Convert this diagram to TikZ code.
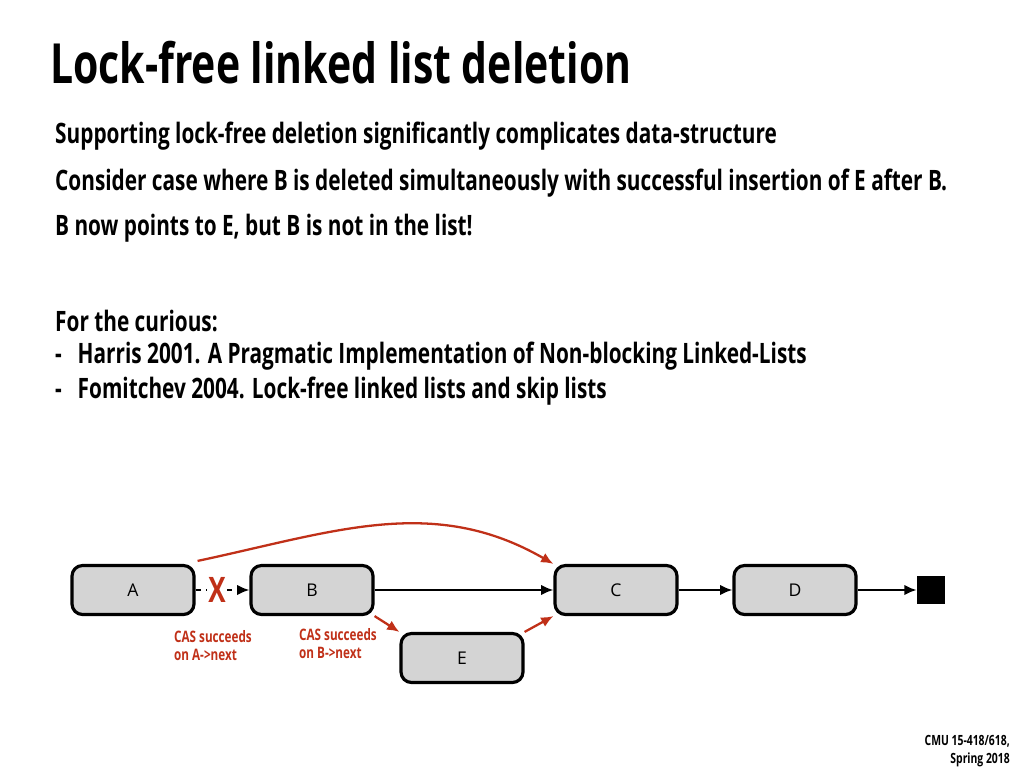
\documentclass[tikz,border=0pt]{standalone}
\usepackage{fontspec}
\setmainfont{Open Sans}[FakeStretch=0.74]
\newfontfamily\boxfont{Open Sans}
\usetikzlibrary{arrows.meta}
\definecolor{casred}{RGB}{192,48,24}
\tikzset{
  listnode/.style={draw,line width=1.8pt,rounded corners=6pt,fill=black!17,minimum width=122*0.02cm,minimum height=49*0.02cm,font=\boxfont\fontsize{10}{12}\selectfont},
  link/.style={-{Latex[length=7pt,width=6pt]},line width=1.3pt},
  caslink/.style={link,casred},
  caslabel/.style={casred,align=left,anchor=north west,font=\bfseries\fontsize{9}{10.5}\selectfont},
  bodytext/.style={anchor=west,font=\bfseries\fontsize{16}{18}\selectfont}
}
\begin{document}
\begin{tikzpicture}[x=0.02cm,y=-0.02cm]
\useasboundingbox (0,0) rectangle (1024,768);
\node[anchor=west,font=\bfseries\fontsize{31.5}{36}\selectfont] (title) at (44,63) {Lock-free linked list deletion};
\node[bodytext] (l1) at (49,136) {Supporting lock-free deletion significantly complicates data-structure};
\node[bodytext] (l2) at (49,183) {Consider case where B is deleted simultaneously with successful insertion of E after B.};
\node[bodytext] (l3) at (49,228) {B now points to E, but B is not in the list!};
\node[bodytext] (l4) at (49,321) {For the curious:};
\node[bodytext] (l5) at (49,356) {-\hspace{9pt}Harris 2001. A Pragmatic Implementation of Non-blocking Linked-Lists};
\node[bodytext] (l6) at (49,391) {-\hspace{9pt}Fomitchev 2004. Lock-free linked lists and skip lists};
% list nodes
\node[listnode] (A) at (133,590) {A};
\node[listnode] (B) at (312,590) {B};
\node[listnode] (C) at (616,590) {C};
\node[listnode] (D) at (795,590) {D};
\node[listnode] (E) at (462,658) {E};
\node[fill=black,minimum size=28*0.02cm,inner sep=0pt] (nil) at (931,590) {};
% links
\draw[link,dashed] (A) -- (B);
\node[casred,font=\bfseries\fontsize{20}{20}\selectfont,fill=white,inner sep=0.5pt] (x) at (217,590) {X};
\draw[link] (B) -- (C);
\draw[link] (C) -- (D);
\draw[link] (D) -- (nil);
\draw[caslink] (A.north east) ++(2,-3) coordinate (a0) to[out=12,in=150] (C.north west);
\draw[caslink] (B.south east) -- (E.north west);
\draw[caslink] (E.north east) -- (C.south west);
\node[caslabel] (lab1) at (168,624) {CAS succeeds\\on A->next};
\node[caslabel] (lab2) at (293,622) {CAS succeeds\\on B->next};
\node[anchor=east,align=right,font=\bfseries\fontsize{8}{10}\selectfont] (foot) at (1016,751) {CMU 15-418/618,\\Spring 2018};
\end{tikzpicture}
\end{document}
